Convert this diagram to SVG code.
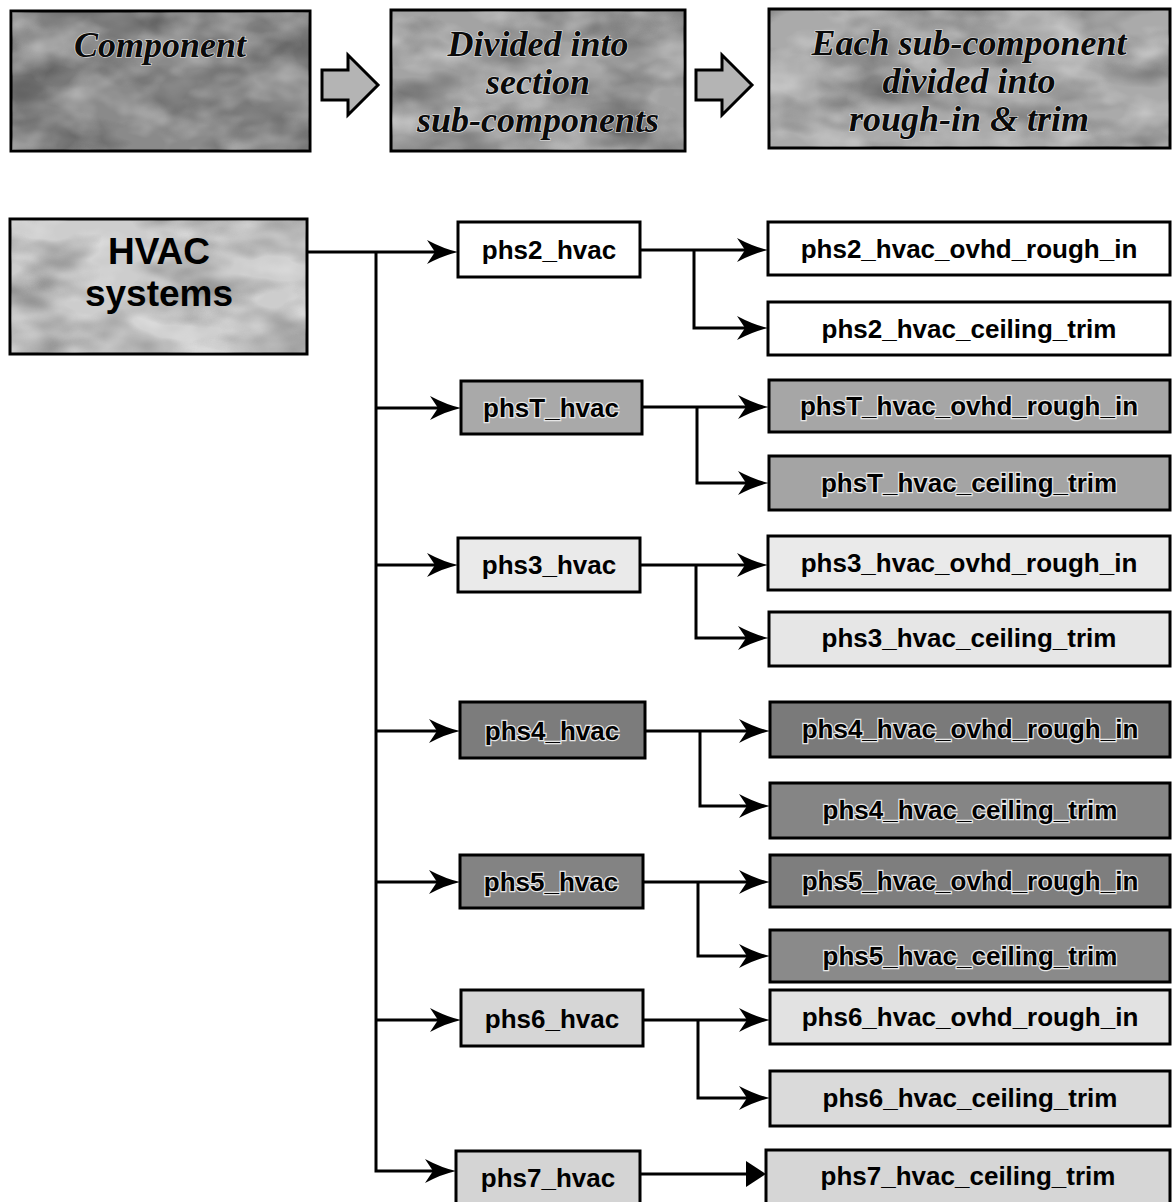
<svg xmlns="http://www.w3.org/2000/svg" xmlns:xlink="http://www.w3.org/1999/xlink" width="1172" height="1202" viewBox="0 0 1172 1202">
<style>
.box{stroke:#000;stroke-width:3}
.hdr{font-family:"Liberation Serif","Times New Roman",serif;font-weight:bold;font-style:italic;font-size:36px;fill:#0a0a0a;stroke:#e8e8e8;stroke-width:1.2;paint-order:stroke;text-anchor:middle}
.lbl{font-family:"Liberation Sans",Arial,sans-serif;font-weight:bold;font-size:26px;fill:#000;text-anchor:middle}
.halo{stroke:#e6e6e6;stroke-width:2.5;paint-order:stroke}
.big{font-family:"Liberation Sans",Arial,sans-serif;font-weight:bold;font-size:37px;fill:#000;text-anchor:middle}
.con{fill:none;stroke:#000;stroke-width:3}
.blk{fill:#b4b4b4;stroke:#000;stroke-width:3;stroke-linejoin:miter}
.tex{opacity:0.35}
</style>
<defs>
<path id="ah" d="M0,0 Q-14,-3 -31,-12 L-23,0 L-31,12 Q-14,3 0,0 Z" fill="#000"/>
<path id="tri" d="M0,0 L-20,-13 L-20,13 Z" fill="#000"/>
<filter id="mottle" x="0" y="0" width="100%" height="100%">
<feTurbulence type="fractalNoise" baseFrequency="0.012 0.025" numOctaves="3" seed="7"/>
<feColorMatrix type="matrix" values="0 0 0 0 0  0 0 0 0 0  0 0 0 0 0  2.2 0 0 0 -0.9"/>
</filter>
<filter id="mottleL" x="0" y="0" width="100%" height="100%">
<feTurbulence type="fractalNoise" baseFrequency="0.02 0.03" numOctaves="3" seed="11"/>
<feColorMatrix type="matrix" values="0 0 0 0 1  0 0 0 0 1  0 0 0 0 1  2.2 0 0 0 -0.9"/>
</filter>
</defs>

<g id="header-component">
<rect class="box" x="11" y="11" width="299" height="140" fill="#8a8a8a"/>
<rect class="tex" x="12" y="12" width="297" height="138" filter="url(#mottle)"/>
<rect class="tex" x="12" y="12" width="297" height="138" filter="url(#mottleL)"/>
<text class="hdr" x="160" y="57" font-size="39">Component</text>
</g>
<g id="header-arrow-1">
<path class="blk" d="M322,70 L348,70 L348,55 L378,85 L348,115 L348,100 L322,100 Z"/>
</g>
<g id="header-divided">
<rect class="box" x="391" y="10" width="294" height="141" fill="#a3a3a3"/>
<rect class="tex" x="392" y="11" width="292" height="139" filter="url(#mottle)"/>
<rect class="tex" x="392" y="11" width="292" height="139" filter="url(#mottleL)"/>
<text class="hdr" x="538" y="56">Divided into</text>
<text class="hdr" x="538" y="94">section</text>
<text class="hdr" x="538" y="132">sub-components</text>
</g>
<g id="header-arrow-2">
<path class="blk" d="M696,70 L722,70 L722,55 L752,85 L722,115 L722,100 L696,100 Z"/>
</g>
<g id="header-each">
<rect class="box" x="769" y="9" width="401" height="139" fill="#aaaaaa"/>
<rect class="tex" x="770" y="10" width="399" height="137" filter="url(#mottle)"/>
<rect class="tex" x="770" y="10" width="399" height="137" filter="url(#mottleL)"/>
<text class="hdr" x="969" y="55">Each sub-component</text>
<text class="hdr" x="969" y="93">divided into</text>
<text class="hdr" x="969" y="131">rough-in &amp; trim</text>
</g>

<g id="connectors">
<path class="con" d="M307,252 L440,252"/>
<path class="con" d="M376,252 L376,1171 L440,1171"/>
<path class="con" d="M376,408 L444,408"/>
<path class="con" d="M376,565 L441,565"/>
<path class="con" d="M376,731 L443,731"/>
<path class="con" d="M376,882 L443,882"/>
<path class="con" d="M376,1020 L444,1020"/>
<use xlink:href="#ah" x="458" y="252"/>
<use xlink:href="#ah" x="461" y="408"/>
<use xlink:href="#ah" x="458" y="565"/>
<use xlink:href="#ah" x="460" y="731"/>
<use xlink:href="#ah" x="460" y="882"/>
<use xlink:href="#ah" x="461" y="1020"/>
<use xlink:href="#ah" x="456" y="1171"/>

<path class="con" d="M640,250 L751,250 M694,250 L694,328 L751,328"/>
<use xlink:href="#ah" x="768" y="250"/>
<use xlink:href="#ah" x="768" y="328"/>
<path class="con" d="M642,407 L752,407 M697,407 L697,483 L752,483"/>
<use xlink:href="#ah" x="769" y="407"/>
<use xlink:href="#ah" x="769" y="483"/>
<path class="con" d="M640,565 L751,565 M696,565 L696,638 L752,638"/>
<use xlink:href="#ah" x="768" y="565"/>
<use xlink:href="#ah" x="769" y="638"/>
<path class="con" d="M645,731 L753,731 M700,731 L700,806 L753,806"/>
<use xlink:href="#ah" x="770" y="731"/>
<use xlink:href="#ah" x="770" y="806"/>
<path class="con" d="M643,882 L753,882 M698,882 L698,956 L753,956"/>
<use xlink:href="#ah" x="770" y="882"/>
<use xlink:href="#ah" x="770" y="956"/>
<path class="con" d="M643,1020 L753,1020 M698,1020 L698,1098 L753,1098"/>
<use xlink:href="#ah" x="770" y="1020"/>
<use xlink:href="#ah" x="770" y="1098"/>
<path class="con" d="M640,1174 L750,1174"/>
<use xlink:href="#tri" x="766" y="1174"/>
</g>

<g id="hvac-systems">
<rect class="box" x="10" y="219" width="297" height="135" fill="#cdcdcd"/>
<rect class="tex" x="11" y="220" width="295" height="133" filter="url(#mottleL)"/>
<rect class="tex" x="11" y="220" width="295" height="133" filter="url(#mottle)" opacity="0.15"/>
<text class="big" x="159" y="264">HVAC</text>
<text class="big" x="159" y="306">systems</text>
</g>

<g id="phs2_hvac">
<rect class="box" x="458" y="222" width="182" height="55" fill="#fff"/>
<text class="lbl" x="549" y="259">phs2_hvac</text>
</g>
<g id="phs2_hvac_ovhd_rough_in">
<rect class="box" x="768" y="222" width="402" height="53" fill="#fff"/>
<text class="lbl" x="969" y="258">phs2_hvac_ovhd_rough_in</text>
</g>
<g id="phs2_hvac_ceiling_trim">
<rect class="box" x="768" y="302" width="402" height="53" fill="#fff"/>
<text class="lbl" x="969" y="338">phs2_hvac_ceiling_trim</text>
</g>

<g id="phsT_hvac">
<rect class="box" x="461" y="381" width="181" height="53" fill="#a9a9a9"/>
<text class="lbl halo" x="551" y="417">phsT_hvac</text>
</g>
<g id="phsT_hvac_ovhd_rough_in">
<rect class="box" x="769" y="380" width="401" height="52" fill="#a6a6a6"/>
<text class="lbl halo" x="969" y="415">phsT_hvac_ovhd_rough_in</text>
</g>
<g id="phsT_hvac_ceiling_trim">
<rect class="box" x="769" y="456" width="401" height="54" fill="#a4a4a4"/>
<text class="lbl halo" x="969" y="492">phsT_hvac_ceiling_trim</text>
</g>

<g id="phs3_hvac">
<rect class="box" x="458" y="538" width="182" height="54" fill="#eaeaea"/>
<text class="lbl" x="549" y="574">phs3_hvac</text>
</g>
<g id="phs3_hvac_ovhd_rough_in">
<rect class="box" x="768" y="536" width="402" height="54" fill="#eaeaea"/>
<text class="lbl" x="969" y="572">phs3_hvac_ovhd_rough_in</text>
</g>
<g id="phs3_hvac_ceiling_trim">
<rect class="box" x="769" y="612" width="401" height="54" fill="#e6e6e6"/>
<text class="lbl" x="969" y="647">phs3_hvac_ceiling_trim</text>
</g>

<g id="phs4_hvac">
<rect class="box" x="460" y="702" width="185" height="56" fill="#7c7c7c"/>
<text class="lbl halo" x="552" y="740">phs4_hvac</text>
</g>
<g id="phs4_hvac_ovhd_rough_in">
<rect class="box" x="770" y="702" width="400" height="55" fill="#7a7a7a"/>
<text class="lbl halo" x="970" y="738">phs4_hvac_ovhd_rough_in</text>
</g>
<g id="phs4_hvac_ceiling_trim">
<rect class="box" x="770" y="783" width="400" height="55" fill="#858585"/>
<text class="lbl halo" x="970" y="819">phs4_hvac_ceiling_trim</text>
</g>

<g id="phs5_hvac">
<rect class="box" x="460" y="855" width="183" height="53" fill="#838383"/>
<text class="lbl halo" x="551" y="891">phs5_hvac</text>
</g>
<g id="phs5_hvac_ovhd_rough_in">
<rect class="box" x="770" y="855" width="400" height="52" fill="#7e7e7e"/>
<text class="lbl halo" x="970" y="890">phs5_hvac_ovhd_rough_in</text>
</g>
<g id="phs5_hvac_ceiling_trim">
<rect class="box" x="770" y="930" width="400" height="52" fill="#8a8a8a"/>
<text class="lbl halo" x="970" y="965">phs5_hvac_ceiling_trim</text>
</g>

<g id="phs6_hvac">
<rect class="box" x="461" y="990" width="182" height="56" fill="#d6d6d6"/>
<text class="lbl" x="552" y="1028">phs6_hvac</text>
</g>
<g id="phs6_hvac_ovhd_rough_in">
<rect class="box" x="770" y="990" width="400" height="54" fill="#e2e2e2"/>
<text class="lbl" x="970" y="1026">phs6_hvac_ovhd_rough_in</text>
</g>
<g id="phs6_hvac_ceiling_trim">
<rect class="box" x="770" y="1071" width="400" height="55" fill="#dadada"/>
<text class="lbl" x="970" y="1107">phs6_hvac_ceiling_trim</text>
</g>

<g id="phs7_hvac">
<rect class="box" x="456" y="1151" width="184" height="53" fill="#d4d4d4"/>
<text class="lbl" x="548" y="1187">phs7_hvac</text>
</g>
<g id="phs7_hvac_ceiling_trim">
<rect class="box" x="766" y="1150" width="404" height="54" fill="#d6d6d6"/>
<text class="lbl" x="968" y="1185">phs7_hvac_ceiling_trim</text>
</g>
</svg>
